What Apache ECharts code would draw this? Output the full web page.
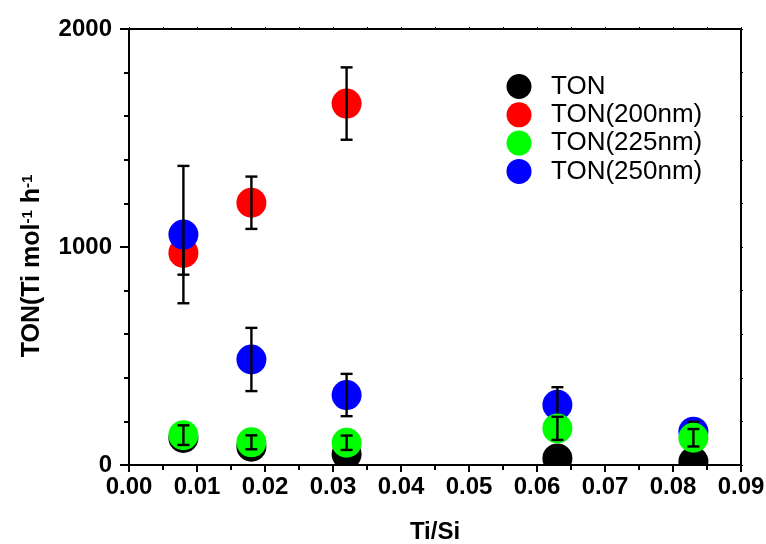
<!DOCTYPE html>
<html>
<head>
<meta charset="utf-8">
<script src="https://cdn.jsdelivr.net/npm/echarts@6/dist/echarts.min.js"></script>
<style>
html,body{margin:0;padding:0;background:#fff;}
#main{width:766px;height:544px;}
</style>
</head>
<body>
<div id="main"></div>
<script>
// ---- data ----
const tiSi = [0.008, 0.018, 0.032, 0.063, 0.083];
const ton = [124, 84, 49, 30, 15];
const tonErr = [20, 15, 15, 10, 10];
const ton200 = [973, 1203, 1658];
const ton200Err = [100, 120, 166];
const ton225 = [137, 104, 102, 168, 125];
const ton225Err = [45, 32, 33, 53, 40];
const ton250 = [1057, 484, 321, 276, 153];
const ton250Err = [315, 145, 97, 81, 45];
const seriesNames = ['TON', 'TON(200nm)', 'TON(225nm)', 'TON(250nm)'];
const xTicks = { min: 0, max: 0.09, interval: 0.01 };
const yTicks = { min: 0, max: 2000, interval: 1000 };

const FONT = 'Liberation Sans, Arial, Helvetica, sans-serif';

function rows(vals, errs) {
  return vals.map((v, i) => [tiSi[i], v, errs[i]]);
}

function makeRender(color) {
  return function (params, api) {
    const x = api.value(0), y = api.value(1), e = api.value(2);
    const c = api.coord([x, y]);
    const t = api.coord([x, y + e]);
    const b = api.coord([x, y - e]);
    const st = { stroke: '#000', lineWidth: 2.4, fill: null };
    return {
      type: 'group',
      children: [
        { type: 'circle', shape: { cx: c[0], cy: c[1], r: 15 }, style: { fill: color } },
        { type: 'line', shape: { x1: c[0], y1: t[1], x2: c[0], y2: b[1] }, style: st },
        { type: 'line', shape: { x1: c[0] - 6, y1: t[1], x2: c[0] + 6, y2: t[1] }, style: st },
        { type: 'line', shape: { x1: c[0] - 6, y1: b[1], x2: c[0] + 6, y2: b[1] }, style: st }
      ]
    };
  };
}

const colors = ['#000000', '#ff0000', '#00ff00', '#0000ff'];
const datasets = [rows(ton, tonErr), rows(ton200, ton200Err), rows(ton225, ton225Err), rows(ton250, ton250Err)];
// drawing order: black, red, blue, green (green on top)
const drawOrder = [0, 1, 3, 2];

const series = drawOrder.map((k, i) => ({
  type: 'custom',
  name: seriesNames[k],
  clip: true,
  z: 2 + i,
  itemStyle: { color: colors[k] },
  encode: { x: 0, y: 1 },
  data: datasets[k],
  renderItem: makeRender(colors[k])
}));

const axisLineStyle = { color: '#000', width: 2 };

const chart = echarts.init(document.getElementById('main'));
chart.setOption({
  backgroundColor: '#fff',
  animation: false,
  grid: { left: 129, right: 25, top: 29, bottom: 79, containLabel: false, outerBoundsMode: 'none' },
  legend: {
    orient: 'vertical',
    left: 506.5,
    top: 73.5,
    padding: 0,
    itemWidth: 25,
    itemHeight: 25,
    itemGap: 2.3,
    textStyle: { fontFamily: FONT, fontSize: 26, color: '#000', padding: [0, 0, 0, 14.5] },
    data: seriesNames.map(n => ({ name: n, icon: 'circle' }))
  },
  xAxis: [{
    type: 'value',
    min: xTicks.min, max: xTicks.max, interval: xTicks.interval,
    name: 'Ti/Si',
    nameLocation: 'middle',
    nameGap: 55,
    nameTextStyle: { fontFamily: FONT, fontSize: 24, fontWeight: 'bold', color: '#000' },
    axisLine: { show: true, onZero: false, lineStyle: axisLineStyle },
    axisTick: { show: true, inside: false, length: 7, lineStyle: axisLineStyle },
    minorTick: { show: true, splitNumber: 2, length: 5, lineStyle: { color: '#000', width: 2 } },
    splitLine: { show: false },
    axisLabel: {
      margin: 10,
      fontFamily: FONT, fontSize: 24, fontWeight: 'bold', color: '#000',
      formatter: v => v.toFixed(2)
    }
  }, {
    type: 'value', position: 'top',
    min: xTicks.min, max: xTicks.max, interval: xTicks.interval,
    axisLine: { show: true, onZero: false, lineStyle: axisLineStyle },
    axisTick: { show: true, inside: false, length: 2, lineStyle: { color: '#000', width: 1 } },
    minorTick: { show: true, splitNumber: 2, length: 2, lineStyle: { color: '#000', width: 1 } },
    splitLine: { show: false },
    axisLabel: { show: false }
  }],
  yAxis: [{
    type: 'value',
    min: yTicks.min, max: yTicks.max, interval: yTicks.interval,
    name: '{m|TON(Ti mol}{s|-1}{m| h}{s|-1}',
    nameLocation: 'middle',
    nameRotate: 90,
    nameGap: 84,
    nameTextStyle: {
      color: '#000',
      padding: [0, 38, 0, 0],
      rich: {
        m: { fontFamily: FONT, fontSize: 25, fontWeight: 'bold', color: '#000', lineHeight: 25 },
        s: { fontFamily: FONT, fontSize: 15, fontWeight: 'bold', color: '#000', verticalAlign: 'top', lineHeight: 15 }
      }
    },
    axisLine: { show: true, onZero: false, lineStyle: axisLineStyle },
    axisTick: { show: true, inside: false, length: 9, lineStyle: axisLineStyle },
    minorTick: { show: true, splitNumber: 5, length: 5, lineStyle: { color: '#000', width: 2 } },
    splitLine: { show: false },
    axisLabel: {
      margin: 17,
      fontFamily: FONT, fontSize: 24, fontWeight: 'bold', color: '#000',
      formatter: v => String(v)
    }
  }, {
    type: 'value', position: 'right',
    min: yTicks.min, max: yTicks.max, interval: yTicks.interval,
    axisLine: { show: true, onZero: false, lineStyle: axisLineStyle },
    axisTick: { show: true, inside: false, length: 2, lineStyle: { color: '#000', width: 1 } },
    minorTick: { show: true, splitNumber: 5, length: 2, lineStyle: { color: '#000', width: 1 } },
    splitLine: { show: false },
    axisLabel: { show: false }
  }],
  series: series
});
</script>
</body>
</html>
